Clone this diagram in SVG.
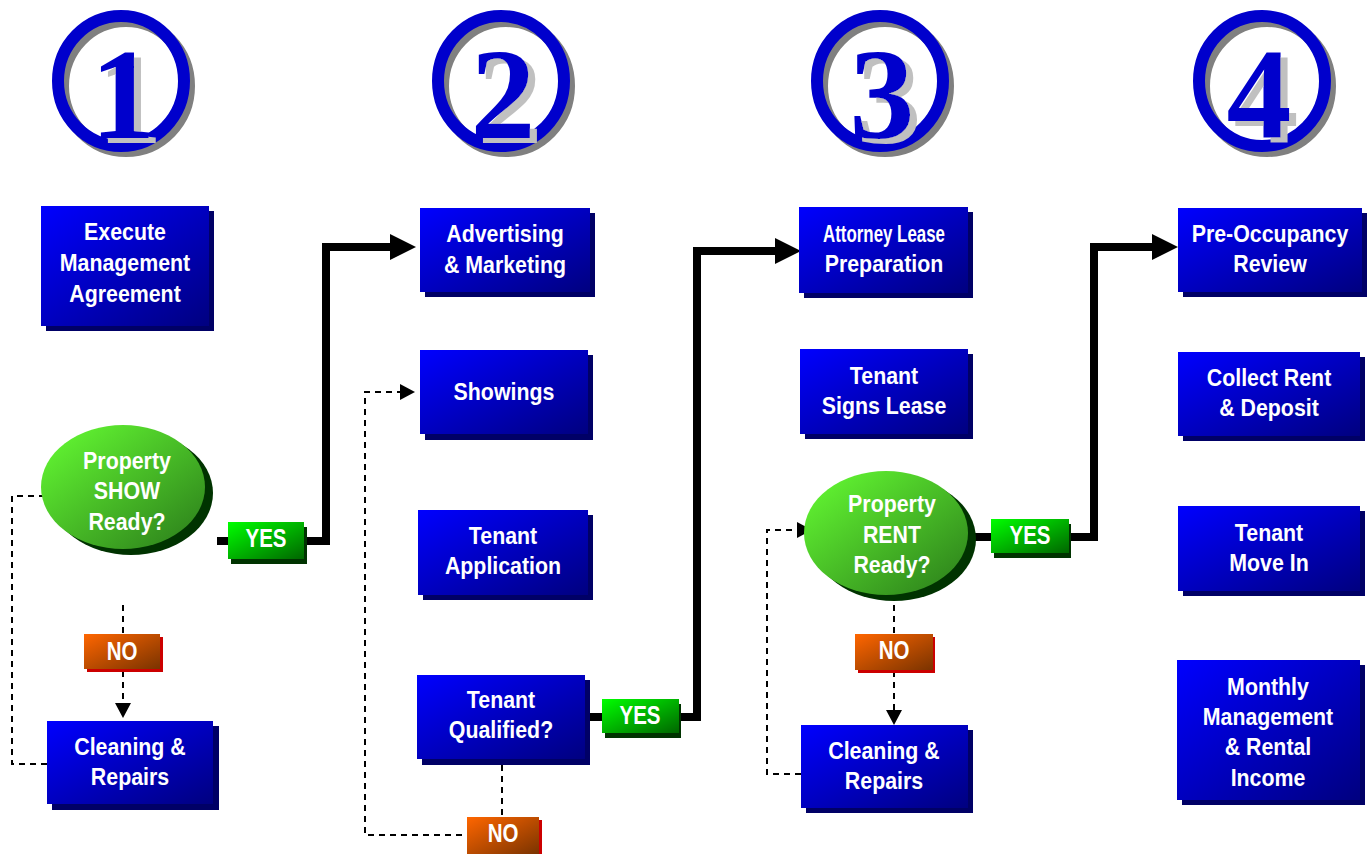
<svg xmlns="http://www.w3.org/2000/svg" width="1368" height="854" viewBox="0 0 1368 854">
<defs>
<linearGradient id="gBlue" x1="0" y1="0" x2="1" y2="1"><stop offset="0" stop-color="#0000FF"/><stop offset="1" stop-color="#000080"/></linearGradient>
<linearGradient id="gGreen" x1="0" y1="0" x2="1" y2="1"><stop offset="0" stop-color="#00FF00"/><stop offset="1" stop-color="#006600"/></linearGradient>
<linearGradient id="gOrange" x1="0" y1="0" x2="1" y2="1"><stop offset="0" stop-color="#FF6600"/><stop offset="1" stop-color="#7A3300"/></linearGradient>
<linearGradient id="gEll" x1="0" y1="0" x2="1" y2="1"><stop offset="0" stop-color="#66FF33"/><stop offset="1" stop-color="#2A7A1A"/></linearGradient>
<filter id="numShadow" x="-20%" y="-20%" width="150%" height="150%">
<feOffset in="SourceAlpha" dx="7" dy="5" result="off"/>
<feFlood flood-color="#C0C0C0"/>
<feComposite in2="off" operator="in" result="sh"/>
<feMerge><feMergeNode in="sh"/><feMergeNode in="SourceGraphic"/></feMerge>
</filter>
<marker id="bigArrow" markerUnits="userSpaceOnUse" markerWidth="26" markerHeight="26" refX="0" refY="13" orient="auto"><path d="M0,0 L26,13 L0,26 z" fill="#000"/></marker>
<marker id="smallArrow" markerUnits="userSpaceOnUse" markerWidth="16" markerHeight="16" refX="0" refY="8" orient="auto"><path d="M0,0 L15,8 L0,16 z" fill="#000"/></marker>
<style>
.box{fill:url(#gBlue)}
.bsh{fill:#000066}
.yes{fill:url(#gGreen)}
.ysh{fill:#003300}
.no{fill:url(#gOrange)}
.nsh{fill:#CC0000}
.ell{fill:url(#gEll)}
.esh{fill:#003300}
.t{font-family:"Liberation Sans",Arial,sans-serif;font-weight:bold;font-size:24px;fill:#fff;text-anchor:middle}
.l{font-family:"Liberation Sans",Arial,sans-serif;font-weight:bold;font-size:25px;fill:#fff;text-anchor:middle}
.ring{fill:none;stroke:#0000CC;stroke-width:12}
.ringsh{fill:none;stroke:#808080;stroke-width:12}
.num{font-family:"Liberation Serif","Times New Roman",serif;font-weight:bold;font-size:130px;fill:#0000CC;text-anchor:middle;filter:url(#numShadow)}
.thick{fill:none;stroke:#000;stroke-width:8;stroke-linejoin:miter}
.dash{fill:none;stroke:#000;stroke-width:2;stroke-dasharray:6 5}
</style>
</defs>
<rect width="1368" height="854" fill="#fff"/>

<g id="connectors">
<path class="thick" d="M217,541 H326 V247 H390" marker-end="url(#bigArrow)"/>
<path class="thick" d="M590,717 H697 V251 H775" marker-end="url(#bigArrow)"/>
<path class="thick" d="M972,537 H1094 V247 H1152" marker-end="url(#bigArrow)"/>
<path class="dash" d="M123,605 V703" marker-end="url(#smallArrow)"/>
<path class="dash" d="M47,764 H12 V496 H50" marker-end="url(#smallArrow)"/>
<path class="dash" d="M502,765 V835 H365 V392 H400" marker-end="url(#smallArrow)"/>
<path class="dash" d="M894,605 V710" marker-end="url(#smallArrow)"/>
<path class="dash" d="M801,774 H767 V530 H797" marker-end="url(#smallArrow)"/>
</g>

<g id="step1">
<ellipse class="ringsh" cx="126" cy="86" rx="63" ry="65"/>
<ellipse class="ring" cx="121" cy="81" rx="63" ry="65"/>
<text class="num" x="123" y="138">1</text>
</g>
<g id="step2">
<ellipse class="ringsh" cx="506" cy="86" rx="63" ry="65"/>
<ellipse class="ring" cx="501" cy="81" rx="63" ry="65"/>
<text class="num" x="503" y="138">2</text>
</g>
<g id="step3">
<ellipse class="ringsh" cx="885" cy="86" rx="63" ry="65"/>
<ellipse class="ring" cx="880" cy="81" rx="63" ry="65"/>
<text class="num" x="882" y="138">3</text>
</g>
<g id="step4">
<ellipse class="ringsh" cx="1267" cy="86" rx="63" ry="65"/>
<ellipse class="ring" cx="1262" cy="81" rx="63" ry="65"/>
<text class="num" x="1259" y="138">4</text>
</g>

<g id="execute">
<rect class="bsh" x="46" y="211" width="168" height="120"/>
<rect class="box" x="41" y="206" width="168" height="120"/>
<text class="t" transform="translate(125 0) scale(0.89 1)" x="0" y="240">Execute</text>
<text class="t" transform="translate(125 0) scale(0.89 1)" x="0" y="271">Management</text>
<text class="t" transform="translate(125 0) scale(0.89 1)" x="0" y="302">Agreement</text>
</g>
<g id="showReady">
<ellipse class="esh" cx="131" cy="493" rx="82" ry="62"/>
<ellipse class="ell" cx="123" cy="487" rx="82" ry="62"/>
<text class="t" transform="translate(127 0) scale(0.89 1)" x="0" y="469">Property</text>
<text class="t" transform="translate(127 0) scale(0.89 1)" x="0" y="499">SHOW</text>
<text class="t" transform="translate(127 0) scale(0.89 1)" x="0" y="530">Ready?</text>
</g>
<g id="yes1">
<rect class="ysh" x="231" y="527" width="76" height="37"/>
<rect class="yes" x="228" y="522" width="76" height="37"/>
<text class="l" transform="translate(266 0) scale(0.82 1)" x="0" y="547">YES</text>
</g>
<g id="no1">
<rect class="nsh" x="87" y="637" width="76" height="35"/>
<rect class="no" x="84" y="634" width="76" height="35"/>
<text class="l" transform="translate(122 0) scale(0.82 1)" x="0" y="660">NO</text>
</g>
<g id="cleaning1">
<rect class="bsh" x="52" y="726" width="167" height="84"/>
<rect class="box" x="47" y="721" width="166" height="83"/>
<text class="t" transform="translate(130 0) scale(0.89 1)" x="0" y="755">Cleaning &amp;</text>
<text class="t" transform="translate(130 0) scale(0.89 1)" x="0" y="785">Repairs</text>
</g>

<g id="advertising">
<rect class="bsh" x="425" y="213" width="170" height="84"/>
<rect class="box" x="420" y="208" width="170" height="84"/>
<text class="t" transform="translate(505 0) scale(0.89 1)" x="0" y="242">Advertising</text>
<text class="t" transform="translate(505 0) scale(0.89 1)" x="0" y="273">&amp; Marketing</text>
</g>
<g id="showings">
<rect class="bsh" x="425" y="355" width="168" height="85"/>
<rect class="box" x="420" y="350" width="168" height="84"/>
<text class="t" transform="translate(504 0) scale(0.89 1)" x="0" y="400">Showings</text>
</g>
<g id="application">
<rect class="bsh" x="423" y="515" width="170" height="85"/>
<rect class="box" x="418" y="510" width="170" height="85"/>
<text class="t" transform="translate(503 0) scale(0.89 1)" x="0" y="544">Tenant</text>
<text class="t" transform="translate(503 0) scale(0.89 1)" x="0" y="574">Application</text>
</g>
<g id="qualified">
<rect class="bsh" x="422" y="680" width="168" height="85"/>
<rect class="box" x="417" y="675" width="168" height="84"/>
<text class="t" transform="translate(501 0) scale(0.89 1)" x="0" y="708">Tenant</text>
<text class="t" transform="translate(501 0) scale(0.89 1)" x="0" y="738">Qualified?</text>
</g>
<g id="yes2">
<rect class="ysh" x="605" y="704" width="76" height="34"/>
<rect class="yes" x="602" y="699" width="77" height="34"/>
<text class="l" transform="translate(640 0) scale(0.82 1)" x="0" y="724">YES</text>
</g>
<g id="no2">
<rect class="nsh" x="470" y="820" width="72" height="37"/>
<rect class="no" x="467" y="817" width="72" height="37"/>
<text class="l" transform="translate(503 0) scale(0.82 1)" x="0" y="842">NO</text>
</g>

<g id="attorney">
<rect class="bsh" x="804" y="212" width="169" height="86"/>
<rect class="box" x="799" y="207" width="169" height="86"/>
<text class="t" x="884" y="242" textLength="122" lengthAdjust="spacingAndGlyphs">Attorney Lease</text>
<text class="t" transform="translate(884 0) scale(0.89 1)" x="0" y="272">Preparation</text>
</g>
<g id="signs">
<rect class="bsh" x="805" y="354" width="168" height="85"/>
<rect class="box" x="800" y="349" width="168" height="85"/>
<text class="t" transform="translate(884 0) scale(0.89 1)" x="0" y="384">Tenant</text>
<text class="t" transform="translate(884 0) scale(0.89 1)" x="0" y="414">Signs Lease</text>
</g>
<g id="rentReady">
<ellipse class="esh" cx="894" cy="539" rx="82" ry="62"/>
<ellipse class="ell" cx="886" cy="533" rx="82" ry="62"/>
<text class="t" transform="translate(892 0) scale(0.89 1)" x="0" y="512">Property</text>
<text class="t" transform="translate(892 0) scale(0.89 1)" x="0" y="543">RENT</text>
<text class="t" transform="translate(892 0) scale(0.89 1)" x="0" y="573">Ready?</text>
</g>
<g id="yes3">
<rect class="ysh" x="994" y="524" width="77" height="34"/>
<rect class="yes" x="991" y="519" width="78" height="34"/>
<text class="l" transform="translate(1030 0) scale(0.82 1)" x="0" y="544">YES</text>
</g>
<g id="no3">
<rect class="nsh" x="858" y="637" width="77" height="36"/>
<rect class="no" x="855" y="634" width="78" height="36"/>
<text class="l" transform="translate(894 0) scale(0.82 1)" x="0" y="659">NO</text>
</g>
<g id="cleaning3">
<rect class="bsh" x="806" y="730" width="167" height="83"/>
<rect class="box" x="801" y="725" width="167" height="83"/>
<text class="t" transform="translate(884 0) scale(0.89 1)" x="0" y="759">Cleaning &amp;</text>
<text class="t" transform="translate(884 0) scale(0.89 1)" x="0" y="789">Repairs</text>
</g>

<g id="preoccupancy">
<rect class="bsh" x="1183" y="213" width="184" height="84"/>
<rect class="box" x="1178" y="208" width="184" height="84"/>
<text class="t" transform="translate(1270 0) scale(0.89 1)" x="0" y="242">Pre-Occupancy</text>
<text class="t" transform="translate(1270 0) scale(0.89 1)" x="0" y="272">Review</text>
</g>
<g id="collect">
<rect class="bsh" x="1183" y="357" width="182" height="84"/>
<rect class="box" x="1178" y="352" width="182" height="84"/>
<text class="t" transform="translate(1269 0) scale(0.89 1)" x="0" y="386">Collect Rent</text>
<text class="t" transform="translate(1269 0) scale(0.89 1)" x="0" y="416">&amp; Deposit</text>
</g>
<g id="movein">
<rect class="bsh" x="1183" y="511" width="182" height="85"/>
<rect class="box" x="1178" y="506" width="182" height="85"/>
<text class="t" transform="translate(1269 0) scale(0.89 1)" x="0" y="541">Tenant</text>
<text class="t" transform="translate(1269 0) scale(0.89 1)" x="0" y="571">Move In</text>
</g>
<g id="monthly">
<rect class="bsh" x="1182" y="665" width="183" height="140"/>
<rect class="box" x="1177" y="660" width="183" height="140"/>
<text class="t" transform="translate(1268 0) scale(0.89 1)" x="0" y="695">Monthly</text>
<text class="t" transform="translate(1268 0) scale(0.89 1)" x="0" y="725">Management</text>
<text class="t" transform="translate(1268 0) scale(0.89 1)" x="0" y="755">&amp; Rental</text>
<text class="t" transform="translate(1268 0) scale(0.89 1)" x="0" y="786">Income</text>
</g>
</svg>
